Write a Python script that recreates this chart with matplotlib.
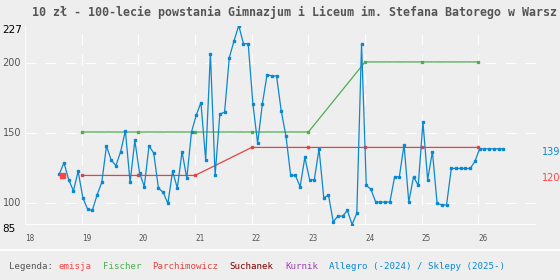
"""10 zl coin price chart - Allegro / shops vs catalogue prices."""

import numpy as np
import pandas as pd
import matplotlib
matplotlib.use("Agg")
import matplotlib.pyplot as plt
from matplotlib.lines import Line2D
from matplotlib import transforms

plt.rcParams["lines.scale_dashes"] = False

# the reference shows the title cut off at the right edge
TITLE = "10 zł - 100-lecie powstania Gimnazjum i Liceum im. Stefana Batorego w Warsz"

# Allegro (-2024) / Sklepy (2025-) - monthly prices
allegro_months = pd.date_range("2018-08-01", "2026-06-01", freq="MS")
allegro_values = [
    121, 129, 117, 109, 123,                                   # 2018
    104, 96, 95, 106, 115, 141, 131, 127, 137, 152, 115, 145,  # 2019
    122, 112, 141, 136, 111, 108, 100, 123, 111, 137, 118, 151,  # 2020
    163, 172, 131, 207, 120, 164, 165, 204, 216, 227, 214, 214,  # 2021
    171, 143, 171, 192, 191, 191, 166, 148, 120, 120, 112, 133,  # 2022
    117, 117, 139, 104, 106, 87, 91, 91, 95, 85, 93, 214,        # 2023
    113, 110, 101, 101, 101, 101, 119, 119, 142, 101, 119, 113,  # 2024
    158, 117, 137, 100, 99, 99, 125, 125, 125, 125, 125, 130,    # 2025
    139, 139, 139, 139, 139, 139,                              # 2026
]

fischer_years = [19, 20, 21, 22, 23, 24, 25, 26]
fischer_values = [151, 151, 151, 151, 151, 201, 201, 201]

parch_years = [19, 20, 21, 22, 23, 24, 25, 26]
parch_values = [120, 120, 120, 140, 140, 140, 140, 140]

emisja_x = 18.66
emisja_value = 120

x_ticks = [18, 19, 20, 21, 22, 23, 24, 25, 26]
y_grid = [100, 150, 200]

BG = "#eeeeee"
BLUE = "#0a88d0"
GREEN = "#4caf50"
RED = "#e04545"
EMISJA = "#ff4444"
GRAY = "#555555"
DASH = (0, (7.9, 6.5))

allegro_x = (allegro_months.year - 2000) + (allegro_months.month - 1 + 0.25) / 12

fig = plt.figure(figsize=(5.6, 2.8), dpi=100, facecolor=BG)
ax = fig.add_axes([25 / 560, 1 - 224.5 / 280, 510.7 / 560, 199 / 280])
ax.set_facecolor(BG)
ax.set_xlim(18, 27.01)
ax.set_ylim(85, 227)
for s in ax.spines.values():
    s.set_visible(False)
ax.set_xticks([])
ax.set_yticks([])

# grid
for y in y_grid:
    ax.axhline(y, color="white", lw=0.8, ls=DASH, zorder=0)
for x in x_ticks[1:]:
    ax.axvline(x, color="white", lw=0.8, ls=DASH, zorder=0)
ax.axhline(85, color="white", lw=1.3, zorder=0)
ax.axvline(18, color="white", lw=1.1, zorder=0)

# series
ax.plot(fischer_years, fischer_values, color=GREEN, lw=0.9, marker="s", ms=2.1, zorder=2)
ax.plot(parch_years, parch_values, color=RED, lw=0.9, marker="s", ms=2.1, zorder=2)
ax.plot(allegro_x, allegro_values, color=BLUE, lw=0.9, marker="s", ms=2.1, zorder=3)
ax.plot([emisja_x], [emisja_value], color=EMISJA, marker="s", ms=3.6, ls="none", zorder=4)

# x labels, left aligned at the grid lines
for x in x_ticks:
    ax.text(x, -0.07, str(x), transform=ax.get_xaxis_transform(), ha="left", va="center",
            fontsize=5.5, family="DejaVu Sans Mono", color=GRAY)

# y labels
yt = ax.get_yaxis_transform()
lx = -22.5 / 510.7
ax.text(lx, 227, "227", transform=yt, ha="left", va="top", fontsize=7.5, color="black")
ax.text(lx, 85, "85", transform=yt, ha="left", va="top", fontsize=7.5, color="black")
for y in y_grid:
    ax.text(lx, y, str(y), transform=yt, ha="left", va="center", fontsize=7, color=GRAY)

# last values on the right
down = transforms.offset_copy(yt, fig=fig, x=0, y=-3, units="dots")
rx = 1 + 6 / 510.7
ax.text(rx, allegro_values[-1], str(allegro_values[-1]), transform=down, ha="left",
        va="center", fontsize=7, color=BLUE)
ax.text(rx, emisja_value, str(emisja_value), transform=down, ha="left",
        va="center", fontsize=7, color=EMISJA)

# title
fig.text(32 / 560, 1 - 12 / 280, TITLE, ha="left", va="center", fontsize=8.4,
         family="DejaVu Sans Mono", weight="bold", color=GRAY)

# separator + legend
fig.add_artist(Line2D([0, 1], [1 - 250 / 280] * 2, transform=fig.transFigure, color="white", lw=1.3))
legend = [("Legenda:", GRAY, 1), ("emisja", EMISJA, 2), ("Fischer", GREEN, 2),
          ("Parchimowicz", RED, 2), ("Suchanek", "#800000", 2), ("Kurnik", "#a040b0", 2),
          ("Allegro (-2024) / Sklepy (2025-)", BLUE, 0)]
char_w = 0.602 * 6.6 * 100 / 72
pos = 9
for label, col, gap in legend:
    fig.text(pos / 560, 1 - 266.7 / 280, label, ha="left", va="center", fontsize=6.6,
             family="DejaVu Sans Mono", color=col)
    pos += (len(label) + gap) * char_w

fig.savefig("out.png", dpi=100, facecolor=BG)
